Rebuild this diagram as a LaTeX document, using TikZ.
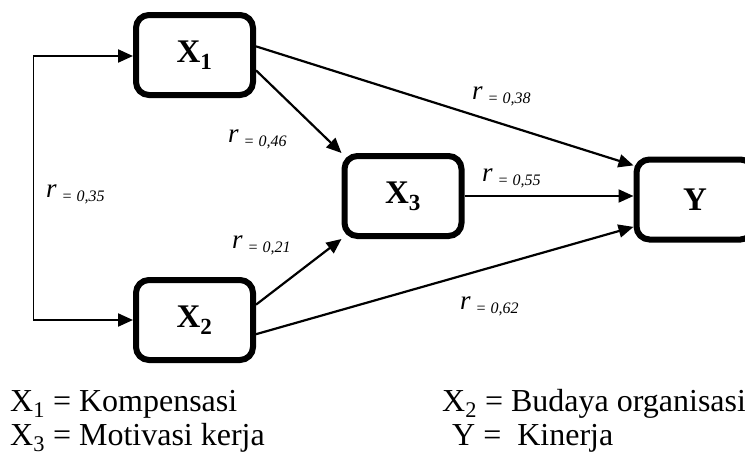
\documentclass[tikz,border=0pt]{standalone}
\usepackage{fontspec}
\setmainfont{Liberation Serif}
\usetikzlibrary{arrows.meta}

\newcommand{\coefr}[1]{{\fontsize{27}{27}\selectfont\itshape r}\hspace{5pt}\raisebox{-4pt}{\fontsize{16}{16}\selectfont\itshape = #1}}

\begin{document}
\begin{tikzpicture}[x=1pt, y=-1pt,
    var/.style={rectangle, draw, line width=6pt, rounded corners=13pt, minimum width=117pt, minimum height=80pt, inner sep=0pt, font=\fontsize{33}{36}\selectfont\bfseries},
    arrow/.style={-{Triangle[length=15pt,width=13pt]}, line width=2.2pt},
    coef/.style={anchor=base west, inner sep=0pt},
    legend/.style={anchor=base west, inner sep=0pt, font=\fontsize{32}{36}\selectfont}
]
    \useasboundingbox (0,0) rectangle (745,455);

    % Variables
    \node[var] (X1) at (194.5,55) {X\textsubscript{1}};
    \node[var] (X2) at (194.5,320) {X\textsubscript{2}};
    \node[var] (X3) at (403,196) {X\textsubscript{3}};
    \node[var] (Y) at (695,199.5) {Y};

    % Correlation between X1 and X2
    \coordinate (c1) at (33,56);
    \coordinate (c2) at (33,320);
    \draw[line width=0.9pt] (c1) -- (c2);
    \draw[arrow] (c1) -- (c1 -| X1.west);
    \draw[arrow] (c2) -- (X2);

    % Paths
    \draw[arrow] (X1.-14) -- (X3.north west);
    \draw[arrow] (X2.14) -- (X3.south west);
    \draw[arrow] (X1.8) -- (Y.151);
    \draw[arrow] (X2.-13) -- (Y.204);
    \draw[arrow] (X3.east) -- (X3.east -| Y.west);

    % Coefficients
    \node[coef] (r46) at (228,142) {\coefr{0,46}};
    \node[coef] (r35) at (46,197) {\coefr{0,35}};
    \node[coef] (r21) at (232,248) {\coefr{0,21}};
    \node[coef] (r38) at (472,99) {\coefr{0,38}};
    \node[coef] (r55) at (482,181) {\coefr{0,55}};
    \node[coef] (r62) at (460,309) {\coefr{0,62}};

    % Legend
    \node[legend] (l1) at (10,411) {X\textsubscript{1} = Kompensasi};
    \node[legend] (l3) at (10,445) {X\textsubscript{3} = Motivasi kerja};
    \node[legend] (l2) at (442,411) {X\textsubscript{2} = Budaya organisasi};
    \node[legend] (l4) at (452,445) {Y =\ \ Kinerja};
\end{tikzpicture}
\end{document}
